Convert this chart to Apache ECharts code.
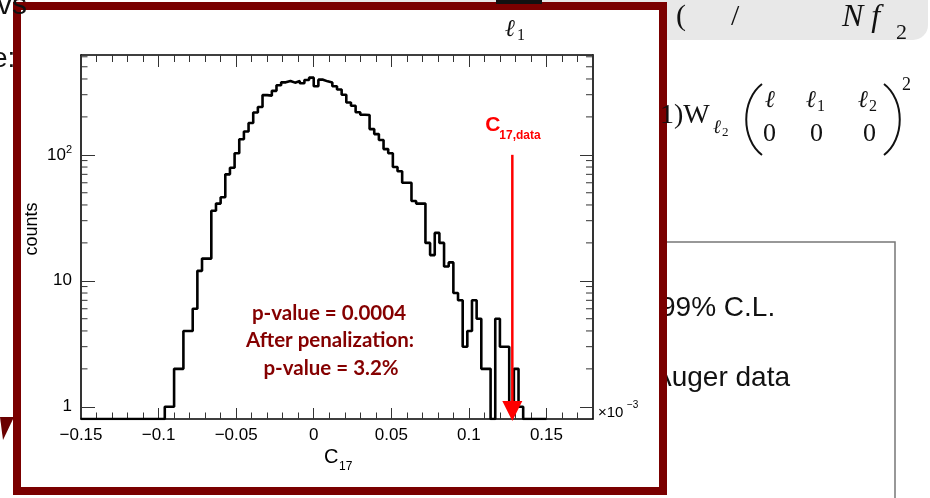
<!DOCTYPE html>
<html><head><meta charset="utf-8">
<script src="https://cdn.jsdelivr.net/npm/echarts@6/dist/echarts.min.js"></script>
<style>html,body{margin:0;padding:0;background:#fff}#c{width:930px;height:498px}</style>
</head><body><div id="c"></div>
<script>
// ---- data ----
const binStart = -0.15;      // x10^-3
const binWidth = 0.003;
const counts = [0,0,0,0,0,0,0,0,0,0,0,0,0,0,0,0,0,0,
  1,1,2,2,4,4,6,12,15,15,36,41,46,70,79,103,133,153,179,217,240,
  298,295,322,357,376,386,374,385,370,393,410,
  350,395,383,375,350,330,300,260,245,218,208,207,
  160,146,131,111,103,80,74,60,60,43,41,41,
  20,16,24,20,13,14,8,7,3,4,7,5,2,2,0,5,3,3,1,2,1,
  0,0,0,0,0];
const xTickLabels = ['-0.15','-0.1','-0.05','0','0.05','0.1','0.15'];
const yMajorTicks = [1,10,100];
const yMinorTicks = [2,3,4,5,6,7,8,9,20,30,40,50,60,70,80,90,200,300,400,500,600];
const c17Data = 0.128;
const arrowTopCount = 100;
const annotation = ['p-value = 0.0004','After penalization:','p-value = 3.2%'];

// ---- axes config ----
const X_MIN = -0.15, X_MAX = 0.18, X_INT = 0.05;
const Y_MIN = 0.8, Y_MAX = 620;
const SANS = '"Liberation Sans", Arial, Helvetica, sans-serif';
const SERIF = '"Liberation Serif", "DejaVu Serif", serif';
const ANN = 'bold 20.5px Lato, "Open Sans", sans-serif';

const histData = counts.map((c, i) => [binStart + i * binWidth, c > 0 ? c : Y_MIN]);
histData.push([binStart + counts.length * binWidth, Y_MIN]);

const fmtX = v => { const r = Math.round(v * 100) / 100; return String(r).replace('-', '\u2212'); };

const chart = echarts.init(document.getElementById('c'), null, {renderer: 'canvas'});

const tickStyle = {color: '#333', width: 1};
const axisLine = {show: true, onZero: false, lineStyle: {color: '#000', width: 1.6}};

const option = {
  animation: false,
  backgroundColor: '#fff',
  grid: {left: 81, right: 337, top: 55, bottom: 79, containLabel: false},
  xAxis: [{
    type: 'value', position: 'bottom', min: X_MIN, max: X_MAX, interval: X_INT,
    axisLine, splitLine: {show: false},
    axisTick: {show: true, inside: true, length: 11, lineStyle: tickStyle},
    minorTick: {show: true, splitNumber: 5, length: 6.5, lineStyle: tickStyle},
    axisLabel: {show: true, showMaxLabel: false, formatter: fmtX, color: '#000', fontSize: 17, fontFamily: SANS, margin: 8}
  }, {
    type: 'value', position: 'top', min: X_MIN, max: X_MAX, interval: X_INT,
    axisLine, splitLine: {show: false},
    axisTick: {show: true, inside: true, length: 12, lineStyle: tickStyle},
    minorTick: {show: true, splitNumber: 5, length: 7, lineStyle: tickStyle},
    axisLabel: {show: false}
  }],
  yAxis: [{
    type: 'log', logBase: 10, position: 'left', min: Y_MIN, max: Y_MAX,
    axisLine, splitLine: {show: false},
    axisTick: {show: true, inside: true, length: 14, lineStyle: tickStyle},
    axisLabel: {
      show: true, showMinLabel: false, showMaxLabel: false, color: '#000', fontSize: 17, fontFamily: SANS, margin: 9,
      formatter: v => { const r = Math.round(v); if (r === 100) return '10{sup|2}'; return String(r); },
      rich: {sup: {fontSize: 11, fontFamily: SANS, color: '#000', verticalAlign: 'top', padding: [0, 0, 9, 0]}}
    }
  }, {
    type: 'log', logBase: 10, position: 'right', min: Y_MIN, max: Y_MAX,
    axisLine, splitLine: {show: false},
    axisTick: {show: true, inside: true, length: 13, lineStyle: tickStyle},
    axisLabel: {show: false}
  }],
  series: [{
    type: 'line', name: 'hist', step: 'end', data: histData, showSymbol: false, symbol: 'none',
    xAxisIndex: 0, yAxisIndex: 0, clip: true,
    lineStyle: {color: '#000', width: 2.6}, z: 5, silent: true
  }, {
    type: 'custom', name: 'minorY', coordinateSystem: 'cartesian2d', xAxisIndex: 0, yAxisIndex: 0,
    data: yMinorTicks.map(v => [X_MIN, v]), silent: true, clip: false, z: 4,
    renderItem: (params, api) => {
      const v = api.value(1);
      const pl = api.coord([X_MIN, v]);
      const pr = api.coord([X_MAX, v]);
      return {type: 'group', children: [
        {type: 'line', shape: {x1: pl[0], y1: pl[1], x2: pl[0] + 6.5, y2: pl[1]}, style: {stroke: '#333', lineWidth: 1}},
        {type: 'line', shape: {x1: pr[0], y1: pr[1], x2: pr[0] - 7, y2: pr[1]}, style: {stroke: '#333', lineWidth: 1}}
      ]};
    }
  }, {
    type: 'custom', name: 'arrow', coordinateSystem: 'cartesian2d', xAxisIndex: 0, yAxisIndex: 0,
    data: [[c17Data, arrowTopCount]], silent: true, clip: false, z: 6,
    renderItem: (params, api) => {
      const top = api.coord([api.value(0), api.value(1)]);
      const bot = api.coord([api.value(0), Y_MIN]);
      const tipY = bot[1] + 2, headH = 20, headW = 20, x = top[0];
      return {type: 'group', children: [
        {type: 'line', shape: {x1: x, y1: top[1], x2: x, y2: tipY - headH + 2}, style: {stroke: '#ff0000', lineWidth: 2.5}},
        {type: 'polygon', shape: {points: [[x - headW / 2, tipY - headH], [x + headW / 2, tipY - headH], [x, tipY]]}, style: {fill: '#ff0000'}},
        {type: 'text', x: x - 27, y: top[1] - 19, style: {text: 'C', font: 'bold 21px ' + SANS, fill: '#ff0000', verticalAlign: 'bottom', align: 'left'}},
        {type: 'text', x: x - 13, y: top[1] - 13, style: {text: '17,data', font: 'bold 12px ' + SANS, fill: '#ff0000', verticalAlign: 'bottom', align: 'left'}}
      ]};
    }
  }],
  graphic: [
    // background slide
    {type: 'rect', z: -30, shape: {x: 300, y: -20, width: 628, height: 60, r: 15}, style: {fill: '#e8e8e8'}},
    {type: 'polyline', z: -30, shape: {points: [[664, 242], [895, 242], [895, 500]]}, style: {fill: 'none', stroke: '#777', lineWidth: 1.5}},
    {type: 'text', z: -29, x: 660, y: 308, style: {text: '99% C.L.', font: '28px ' + SANS, fill: '#111', verticalAlign: 'middle'}},
    {type: 'text', z: -29, x: 653, y: 378, style: {text: 'Auger data', font: '28px ' + SANS, fill: '#111', verticalAlign: 'middle'}},
    // plot panel
    {type: 'rect', z: -10, shape: {x: 17, y: 6, width: 646, height: 485}, style: {fill: '#fff'}},
    {type: 'rect', z: 100, shape: {x: 17, y: 6, width: 646, height: 485}, style: {fill: 'none', stroke: '#7a0000', lineWidth: 8}},
    // slide text on top
    {type: 'text', z: 110, x: -3, y: -9, style: {text: 'vs', font: '30px ' + SANS, fill: '#111'}},
    {type: 'text', z: 110, x: -8, y: 45, style: {text: 'e:', font: '28px ' + SANS, fill: '#111'}},
    {type: 'polygon', z: 110, shape: {points: [[0, 417], [14, 417], [3, 440]]}, style: {fill: '#6a0000'}},
    {type: 'rect', z: 110, shape: {x: 496, y: 0, width: 46, height: 4}, style: {fill: '#111'}},
    {type: 'text', z: 110, x: 505, y: 42, style: {text: '\u2113', font: 'italic 24px ' + SERIF, fill: '#111', verticalAlign: 'bottom'}},
    {type: 'text', z: 110, x: 517, y: 44, style: {text: '1', font: '16px ' + SERIF, fill: '#111', verticalAlign: 'bottom'}},
    {type: 'text', z: 110, x: 676, y: 32, style: {text: '(      /', font: '30px ' + SERIF, fill: '#111', verticalAlign: 'bottom'}},
    {type: 'text', z: 110, x: 842, y: 34, style: {text: 'N f', font: 'italic 32px ' + SERIF, fill: '#111', verticalAlign: 'bottom'}},
    {type: 'text', z: 110, x: 896, y: 44, style: {text: '2', font: '22px ' + SERIF, fill: '#111', verticalAlign: 'bottom'}},
    // right formula
    {type: 'text', z: 110, x: 660, y: 130, style: {text: '1)W', font: '28px ' + SERIF, fill: '#111', verticalAlign: 'bottom'}},
    {type: 'text', z: 110, x: 713, y: 137, style: {text: '\u2113', font: 'italic 19px ' + SERIF, fill: '#111', verticalAlign: 'bottom'}},
    {type: 'text', z: 110, x: 722, y: 139, style: {text: '2', font: '13px ' + SERIF, fill: '#111', verticalAlign: 'bottom'}},
    {type: 'bezierCurve', z: 110, shape: {x1: 762, y1: 84, x2: 762, y2: 155, cpx1: 741, cpy1: 100, cpx2: 741, cpy2: 139}, style: {stroke: '#111', lineWidth: 2, fill: 'none'}},
    {type: 'bezierCurve', z: 110, shape: {x1: 884, y1: 84, x2: 884, y2: 155, cpx1: 905, cpy1: 100, cpx2: 905, cpy2: 139}, style: {stroke: '#111', lineWidth: 2, fill: 'none'}},
    {type: 'text', z: 110, x: 902, y: 94, style: {text: '2', font: '18px ' + SERIF, fill: '#111', verticalAlign: 'bottom'}},
    {type: 'text', z: 110, x: 765, y: 113, style: {text: '\u2113', font: 'italic 24px ' + SERIF, fill: '#111', verticalAlign: 'bottom'}},
    {type: 'text', z: 110, x: 806, y: 113, style: {text: '\u2113', font: 'italic 24px ' + SERIF, fill: '#111', verticalAlign: 'bottom'}},
    {type: 'text', z: 110, x: 817, y: 115, style: {text: '1', font: '16px ' + SERIF, fill: '#111', verticalAlign: 'bottom'}},
    {type: 'text', z: 110, x: 858, y: 113, style: {text: '\u2113', font: 'italic 24px ' + SERIF, fill: '#111', verticalAlign: 'bottom'}},
    {type: 'text', z: 110, x: 869, y: 115, style: {text: '2', font: '16px ' + SERIF, fill: '#111', verticalAlign: 'bottom'}},
    {type: 'text', z: 110, x: 763, y: 147, style: {text: '0', font: '26px ' + SERIF, fill: '#111', verticalAlign: 'bottom'}},
    {type: 'text', z: 110, x: 810, y: 147, style: {text: '0', font: '26px ' + SERIF, fill: '#111', verticalAlign: 'bottom'}},
    {type: 'text', z: 110, x: 863, y: 147, style: {text: '0', font: '26px ' + SERIF, fill: '#111', verticalAlign: 'bottom'}},
    // axis titles and annotations
    {type: 'text', z: 20, x: 32, y: 229, rotation: Math.PI / 2, style: {text: 'counts', font: '18px ' + SANS, fill: '#000', align: 'center', verticalAlign: 'middle'}},
    {type: 'text', z: 20, x: 324, y: 447, style: {text: 'C', font: '20px ' + SANS, fill: '#000', verticalAlign: 'top'}},
    {type: 'text', z: 20, x: 339, y: 461, style: {text: '17', font: '12px ' + SANS, fill: '#000', verticalAlign: 'top'}},
    {type: 'text', z: 20, x: 598, y: 413, style: {text: '\u00D710', font: '15px ' + SANS, fill: '#000', verticalAlign: 'middle'}},
    {type: 'text', z: 20, x: 627, y: 405, style: {text: '\u22123', font: '10px ' + SANS, fill: '#000', verticalAlign: 'middle'}},
    {type: 'text', z: 20, x: 329, y: 313, style: {text: annotation[0], font: ANN, fill: '#850000', align: 'center', verticalAlign: 'middle'}},
    {type: 'text', z: 20, x: 330, y: 340, style: {text: annotation[1], font: ANN, fill: '#850000', align: 'center', verticalAlign: 'middle'}},
    {type: 'text', z: 20, x: 331, y: 368, style: {text: annotation[2], font: ANN, fill: '#850000', align: 'center', verticalAlign: 'middle'}}
  ]
};
chart.setOption(option);
</script>
</body></html>
